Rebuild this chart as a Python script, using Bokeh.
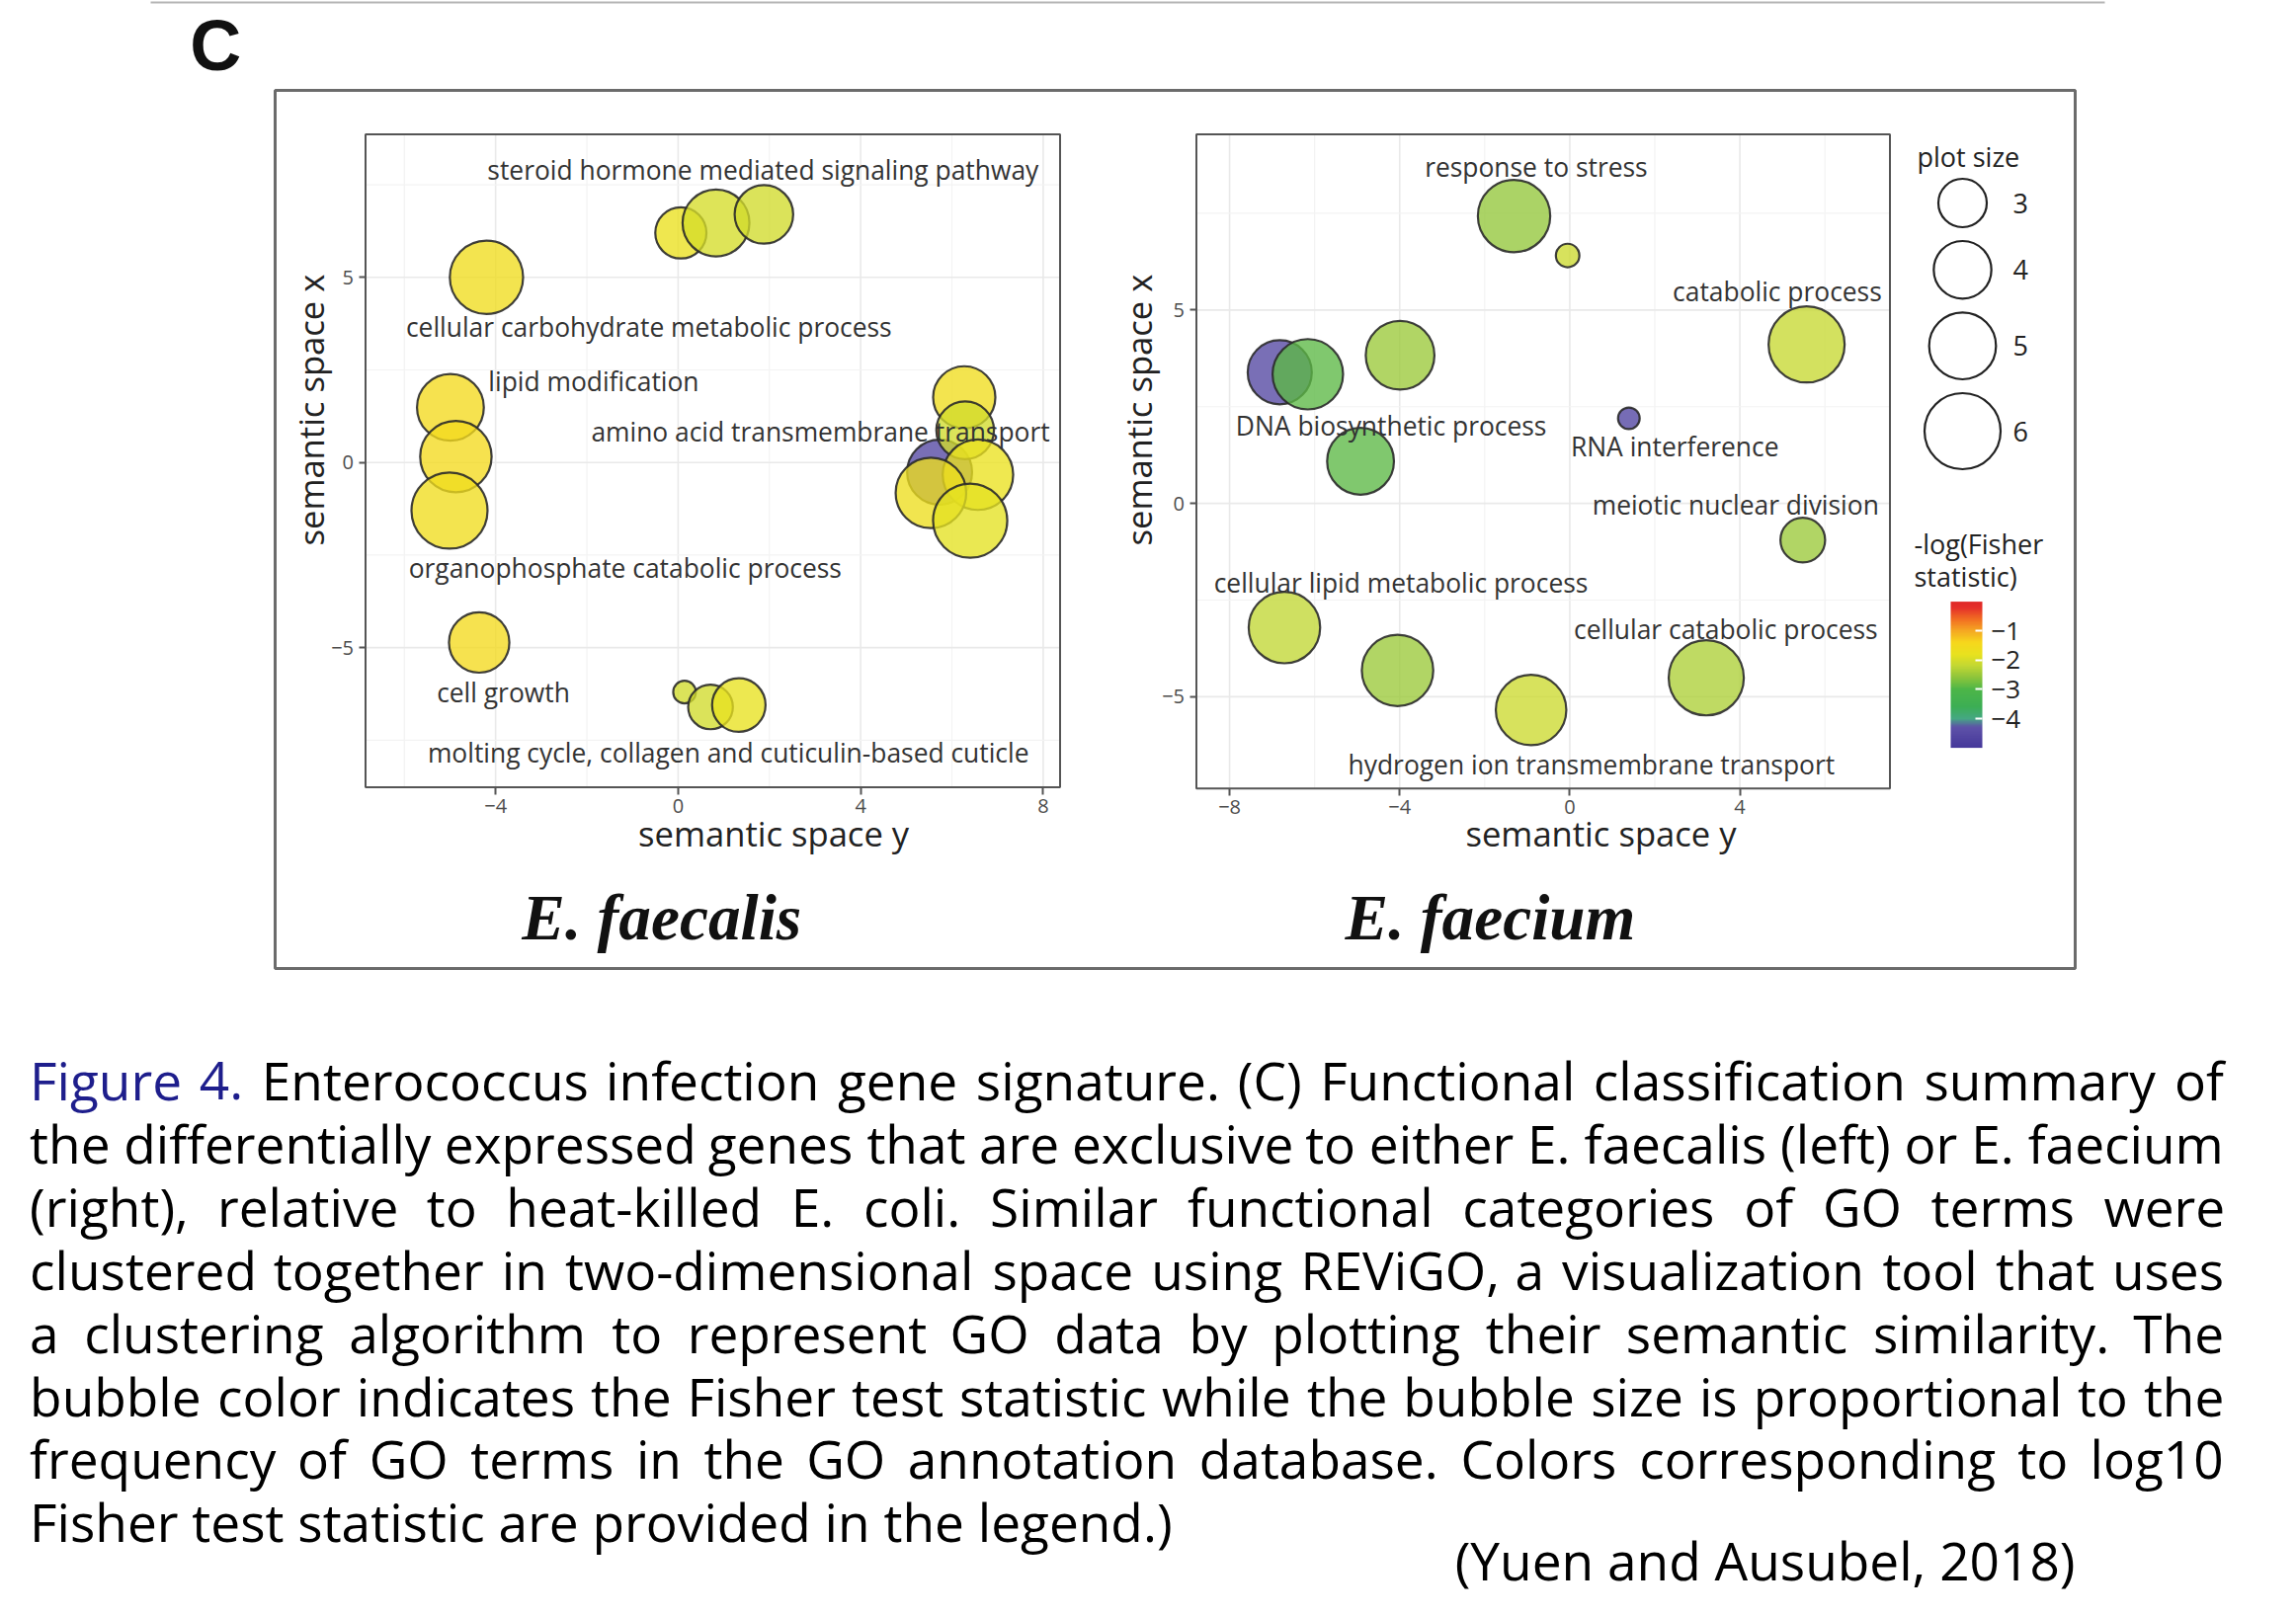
import os
import subprocess
from math import pi

from bokeh.plotting import figure
from bokeh.models import (ColumnDataSource, Range1d, LinearAxis, FixedTicker,
                          LinearColorMapper, ColorBar, LinearInterpolator,
                          CustomJSTickFormatter)
from bokeh.core.properties import value
from bokeh.embed import file_html
from bokeh.resources import INLINE

# ---------------------------------------------------------------- data
# E. faecalis panel (semantic space y -> x axis, semantic space x -> y axis)
fa_xlim = [-6.85, 8.37]
fa_ylim = [-8.77, 8.86]
fa_xticks = [-4, 0, 4, 8]
fa_yticks = [-5, 0, 5]
fa_x = [0.06, 0.83, 1.88, -4.20, -4.99, -4.87, -5.01, 6.27, 5.73, 6.29, 6.57, 5.54, 6.40, -4.36, 0.14, 0.71, 1.33]
fa_y = [6.20, 6.47, 6.70, 5.00, 1.49, 0.16, -1.30, 1.76, -0.26, 0.87, -0.33, -0.82, -1.57, -4.86, -6.20, -6.60, -6.55]
fa_size = [3.3, 5.0, 4.1, 5.7, 5.0, 5.5, 6.1, 4.5, 4.8, 4.0, 5.4, 5.4, 5.8, 4.3, 0.2, 2.6, 3.55]
fa_logp = [-1.7, -2.0, -2.05, -1.6, -1.5, -1.5, -1.6, -1.6, -4.6, -2.05, -1.75, -1.65, -1.85, -1.5, -2.05, -2.05, -1.8]
fa_labels = ["steroid hormone mediated signaling pathway",
             "cellular carbohydrate metabolic process",
             "lipid modification",
             "amino acid transmembrane transport",
             "organophosphate catabolic process",
             "cell growth",
             "molting cycle, collagen and cuticulin-based cuticle"]
fa_lx = [1.86, -0.64, -1.85, 3.12, -1.16, -3.83, 1.10]
fa_ly = [7.90, 3.67, 2.20, 0.83, -2.86, -6.20, -7.84]

# E. faecium panel
fm_xlim = [-8.78, 7.53]
fm_ylim = [-7.37, 9.54]
fm_xticks = [-8, -4, 0, 4]
fm_yticks = [-5, 0, 5]
fm_x = [-1.31, -0.05, 5.57, -6.82, -6.16, -3.99, -4.92, 1.39, 5.48, -6.71, -4.05, -0.91, 3.21]
fm_y = [7.43, 6.41, 4.11, 3.39, 3.34, 3.83, 1.09, 2.20, -0.95, -3.21, -4.32, -5.34, -4.51]
fm_size = [5.6, 0.3, 6.1, 4.7, 5.4, 5.2, 5.0, 0.1, 2.6, 5.5, 5.5, 5.4, 5.9]
fm_logp = [-2.55, -2.1, -2.15, -4.6, -2.9, -2.5, -2.9, -4.7, -2.5, -2.2, -2.5, -2.1, -2.35]
fm_labels = ["response to stress", "catabolic process", "DNA biosynthetic process",
             "RNA interference", "meiotic nuclear division",
             "cellular lipid metabolic process", "cellular catabolic process",
             "hydrogen ion transmembrane transport"]
fm_lx = [-0.79, 4.88, -4.20, 2.47, 3.90, -3.97, 3.67, 0.51]
fm_ly = [8.71, 5.47, 2.02, 1.47, -0.03, -2.06, -3.25, -6.75]

panel_titles = ["E. faecalis", "E. faecium"]
axis_title_x = "semantic space y"
axis_title_y = "semantic space x"

legend_sizes = [3, 4, 5, 6]
cbar_ticks = [-4, -3, -2, -1]
cbar_low, cbar_high = -5.0, 0.0

caption_lines = [
    "Figure 4. Enterococcus infection gene signature. (C) Functional classification summary of",
    "the differentially expressed genes that are exclusive to either E. faecalis (left) or E. faecium",
    "(right), relative to heat-killed E. coli. Similar functional categories of GO terms were",
    "clustered together in two-dimensional space using REViGO, a visualization tool that uses",
    "a clustering algorithm to represent GO data by plotting their semantic similarity. The",
    "bubble color indicates the Fisher test statistic while the bubble size is proportional to the",
    "frequency of GO terms in the GO annotation database. Colors corresponding to log10",
    "Fisher test statistic are provided in the legend.)",
]
citation = "(Yuen and Ausubel, 2018)"

# ---------------------------------------------------------------- fonts / measuring
try:
    from PIL import ImageFont
except Exception:
    ImageFont = None

_ALL = []
for root in ["/usr/share/fonts", "/usr/local/share/fonts",
             os.path.expanduser("~/.fonts"), os.path.expanduser("~/.local/share/fonts")]:
    if os.path.isdir(root):
        for dp, _, fs in os.walk(root):
            for f in fs:
                if f.lower().endswith((".ttf", ".otf")):
                    _ALL.append(os.path.join(dp, f))
_ALL.sort()


def find_font(keys, family=None, must=None):
    for k in keys:
        for f in _ALL:
            n = os.path.basename(f).lower()
            if k in n and "italic" not in n.replace(k, ""):
                return f
    if family:
        try:
            r = subprocess.run(["fc-match", "-f", "%{file}", family],
                               capture_output=True, text=True, timeout=5)
            f = r.stdout.strip()
            if f and os.path.exists(f) and (must is None or must in os.path.basename(f).lower()):
                return f
        except Exception:
            pass
    return None


OS_PATH = find_font(["opensans-regular", "opensans["], "Open Sans", "opensans")
NARROW_PATH = find_font(["liberationsansnarrow-regular"], "Liberation Sans Narrow", "narrow")
SERIF_BI_PATH = None
for f in _ALL:
    if "liberationserif-bolditalic" in os.path.basename(f).lower():
        SERIF_BI_PATH = f
        break

_FC = {}


def text_w(txt, path, size, em):
    if ImageFont is not None and path:
        try:
            fnt = _FC.get(path)
            if fnt is None:
                fnt = ImageFont.truetype(path, 200)
                _FC[path] = fnt
            return fnt.getlength(txt) * size / 200.0
        except Exception:
            pass
    return len(txt) * em * size


def fit(txt, target, path, em):
    return target / text_w(txt, path, 1.0, em)


SANS = "Open Sans"
if NARROW_PATH:
    CAP_FONT, CAP_PATH, CAP_EM = "Liberation Sans Narrow", NARROW_PATH, 0.40
else:
    CAP_FONT, CAP_PATH, CAP_EM = "Open Sans", OS_PATH, 0.50

LAB_SIZE = fit(fa_labels[0], 558, OS_PATH, 0.50)
AX_SIZE = fit(axis_title_x, 274, OS_PATH, 0.50)
LEG_SIZE = fit("-log(Fisher", 131, OS_PATH, 0.50)
CAP_SIZE = fit(caption_lines[-1], 1154, CAP_PATH, CAP_EM)
TITLE_SIZE = min(70.0, max(56.0, fit(panel_titles[0], 283, SERIF_BI_PATH, 0.42)))

# ---------------------------------------------------------------- layout (page pixels; canvas at page 0,0)
W, H = 2316, 1630
FA_BOX = (369.5, 1072.5, 135.6, 796.5)   # left, right, top, bottom
FM_BOX = (1210.5, 1912.5, 135.6, 797.7)

p = figure(width=W, height=H, output_backend="svg", toolbar_location=None,
           x_range=Range1d(0, W), y_range=Range1d(H, 0),
           x_axis_type=None, y_axis_type=None, min_border=0)
p.outline_line_color = None
p.background_fill_color = "white"
p.border_fill_color = "white"


def panel_ranges(xlim, ylim, box):
    L, R, T, B = box
    kx = (xlim[1] - xlim[0]) / (R - L)
    xs = xlim[0] - L * kx
    ky = (ylim[1] - ylim[0]) / (B - T)
    ys = ylim[0] - (H - B) * ky
    return Range1d(xs, xs + W * kx), Range1d(ys, ys + H * ky)


fax, fay = panel_ranges(fa_xlim, fa_ylim, FA_BOX)
fmx, fmy = panel_ranges(fm_xlim, fm_ylim, FM_BOX)
p.extra_x_ranges = {"fax": fax, "fmx": fmx}
p.extra_y_ranges = {"fay": fay, "fmy": fmy}

# colour scale
anchor_v = [-5.0, -4.3, -4.0, -3.6, -3.0, -2.6, -2.2, -1.8, -1.4, -1.0, -0.6, -0.2, 0.0]
anchor_c = ["#45379a", "#5e52a8", "#45a883", "#3cae55", "#4db648", "#8cc43c", "#c2d734",
            "#e8e21f", "#f6d81c", "#f5a922", "#f26f22", "#e5302a", "#e12a28"]


def _rgb(h):
    return tuple(int(h[i:i + 2], 16) for i in (1, 3, 5))


palette = []
N = 256
for k in range(N):
    v = cbar_low + (cbar_high - cbar_low) * k / (N - 1)
    for j in range(len(anchor_v) - 1):
        if anchor_v[j] <= v <= anchor_v[j + 1]:
            t = (v - anchor_v[j]) / (anchor_v[j + 1] - anchor_v[j])
            a, b = _rgb(anchor_c[j]), _rgb(anchor_c[j + 1])
            palette.append("#%02x%02x%02x" % tuple(int(round(a[i] + (b[i] - a[i]) * t)) for i in range(3)))
            break
cmap = LinearColorMapper(palette=palette, low=cbar_low, high=cbar_high)
size_map = LinearInterpolator(x=[0, 6], y=[21.0, 77.0], clip=False)

MINUS_JS = "return String(tick).replace('-', '\\u2212');"


def grid_vals(ticks, lim):
    step = ticks[1] - ticks[0]
    major = [t for t in ticks if lim[0] < t < lim[1]]
    minor = [t + step / 2.0 for t in [ticks[0] - step] + ticks if lim[0] < t + step / 2.0 < lim[1]]
    return major, minor


def draw_panel(tag, xlim, ylim, xt, yt, bx, by, bs, bv, labels, lx, ly):
    xr, yr = tag + "x", tag + "y"
    gxm, gxn = grid_vals(xt, xlim)
    gym, gyn = grid_vals(yt, ylim)
    for vals, col, lw in ((gxn, "#f3f3f3", 1.2), (gxm, "#e9e9e9", 1.6)):
        p.segment(x0=vals, x1=vals, y0=[ylim[0]] * len(vals), y1=[ylim[1]] * len(vals),
                  line_color=col, line_width=lw, x_range_name=xr, y_range_name=yr)
    for vals, col, lw in ((gyn, "#f3f3f3", 1.2), (gym, "#e9e9e9", 1.6)):
        p.segment(y0=vals, y1=vals, x0=[xlim[0]] * len(vals), x1=[xlim[1]] * len(vals),
                  line_color=col, line_width=lw, x_range_name=xr, y_range_name=yr)

    src = ColumnDataSource(dict(x=bx, y=by, s=bs, v=bv))
    p.scatter("x", "y", source=src, marker="circle",
              size={"field": "s", "transform": size_map},
              fill_color={"field": "v", "transform": cmap}, fill_alpha=0.78,
              line_color="#2a2a2a", line_width=2.2, line_alpha=0.9,
              x_range_name=xr, y_range_name=yr)

    lsrc = ColumnDataSource(dict(x=lx, y=ly, t=labels))
    p.text("x", "y", text="t", source=lsrc, text_font=value(SANS),
           text_font_size="%.1fpx" % LAB_SIZE, text_color="#333333",
           text_align="center", text_baseline="middle",
           x_range_name=xr, y_range_name=yr)

    p.quad(left=[xlim[0]], right=[xlim[1]], bottom=[ylim[0]], top=[ylim[1]],
           fill_color=None, line_color="#555555", line_width=2,
           x_range_name=xr, y_range_name=yr)

    for dim in ("x", "y"):
        if dim == "x":
            ax = LinearAxis(x_range_name=xr, y_range_name=yr, fixed_location=ylim[0],
                            bounds=(xlim[0], xlim[1]), ticker=FixedTicker(ticks=xt),
                            formatter=CustomJSTickFormatter(code=MINUS_JS))
            place = "below"
        else:
            ax = LinearAxis(x_range_name=xr, y_range_name=yr, fixed_location=xlim[0],
                            bounds=(ylim[0], ylim[1]), ticker=FixedTicker(ticks=yt),
                            formatter=CustomJSTickFormatter(code=MINUS_JS))
            place = "left"
        ax.axis_line_color = None
        ax.major_tick_line_color = "#555555"
        ax.major_tick_line_width = 2
        ax.major_tick_in = 0
        ax.major_tick_out = 7
        ax.minor_tick_line_color = None
        ax.major_label_text_font = SANS
        ax.major_label_text_font_size = "20px"
        ax.major_label_text_color = "#4d4d4d"
        ax.major_label_standoff = 5
        p.add_layout(ax, place)


draw_panel("fa", fa_xlim, fa_ylim, fa_xticks, fa_yticks, fa_x, fa_y, fa_size, fa_logp,
           fa_labels, fa_lx, fa_ly)
draw_panel("fm", fm_xlim, fm_ylim, fm_xticks, fm_yticks, fm_x, fm_y, fm_size, fm_logp,
           fm_labels, fm_lx, fm_ly)

# ---------------------------------------------------------------- decorations (page coords)
p.segment(x0=[152], x1=[2130], y0=[2], y1=[2], line_color="#b5b5b5", line_width=2)
p.quad(left=[278], right=[2100], top=[91], bottom=[980], fill_color=None,
       line_color="#6b6b6b", line_width=3)
p.text(x=[217.7], y=[45], text=["C"], text_font=value("Liberation Sans"),
       text_font_style="bold", text_font_size="72px", text_color="#111111",
       text_align="center", text_baseline="middle")

p.text(x=[669.3, 1508], y=[928, 928], text=panel_titles, text_font=value("Liberation Serif"),
       text_font_style="bold italic", text_font_size="%.1fpx" % TITLE_SIZE,
       text_color="#111111", text_align="center", text_baseline="middle")

p.text(x=[782.6, 1620], y=[842.6, 842.6], text=[axis_title_x, axis_title_x], text_font=value(SANS),
       text_font_size="%.1fpx" % AX_SIZE, text_color="#222222",
       text_align="center", text_baseline="middle")
p.text(x=[314, 1152], y=[414.6, 414.6], text=[axis_title_y, axis_title_y], text_font=value(SANS),
       text_font_size="%.1fpx" % AX_SIZE, text_color="#222222", angle=pi / 2,
       text_align="center", text_baseline="middle")

# size legend
leg_d = [21.0 + (77.0 - 21.0) * s / 6.0 for s in legend_sizes]
leg_y = [205.0]
for i in range(1, len(legend_sizes)):
    leg_y.append(leg_y[-1] + (leg_d[i - 1] + leg_d[i]) / 2.0 + 14)
lsrc = ColumnDataSource(dict(x=[1986] * len(legend_sizes), y=leg_y, s=legend_sizes))
p.scatter("x", "y", source=lsrc, marker="circle", size={"field": "s", "transform": size_map},
          fill_color=None, line_color="#222222", line_width=2.2)
p.text(x=[2037] * len(legend_sizes), y=leg_y, text=[str(s) for s in legend_sizes],
       text_font=value(SANS), text_font_size="%.1fpx" % LEG_SIZE, text_color="#222222",
       text_align="left", text_baseline="middle")
p.text(x=[1940], y=[158.4], text=["plot size"], text_font=value(SANS),
       text_font_size="%.1fpx" % LEG_SIZE, text_color="#222222",
       text_align="left", text_baseline="middle")
p.text(x=[1937, 1937], y=[550, 583], text=["-log(Fisher", "statistic)"], text_font=value(SANS),
       text_font_size="%.1fpx" % LEG_SIZE, text_color="#222222",
       text_align="left", text_baseline="middle")

# colour bar: bar left 1974, top 608.4, bottom 756.6 (page px)
cb_left, cb_top, cb_bottom, cb_w = 1974.0, 608.4, 756.6, 32
cb = ColorBar(color_mapper=cmap, ticker=FixedTicker(ticks=cbar_ticks),
              formatter=CustomJSTickFormatter(code=MINUS_JS),
              orientation="vertical", width=cb_w, height=int(round(cb_bottom - cb_top)),
              location=(cb_left, H - cb_bottom), padding=0, margin=0,
              major_tick_in=7, major_tick_out=0, major_tick_line_color="white",
              major_tick_line_width=2, minor_tick_line_color=None, bar_line_color=None,
              border_line_color=None, background_fill_color=None,
              major_label_text_font=SANS, major_label_text_font_size="26px",
              major_label_text_color="#222222", label_standoff=9)
p.add_layout(cb, "center")

# caption (justified); y values are vertical centres of the lines
X0, X1 = 29.6, 2250.7
MID0, LEAD = 1093.0, 63.9
cw_x, cw_y, cw_t, cw_c = [], [], [], []
for i, line in enumerate(caption_lines):
    yb = MID0 + i * LEAD
    if i < len(caption_lines) - 1:
        words = line.split(" ")
        ws = [text_w(w, CAP_PATH, CAP_SIZE, CAP_EM) for w in words]
        gap = (X1 - X0 - sum(ws)) / (len(words) - 1)
        gap = max(gap, 0.15 * CAP_SIZE)
        xx = X0
        for j, (w, wd) in enumerate(zip(words, ws)):
            cw_x.append(xx)
            cw_y.append(yb)
            cw_t.append(w)
            cw_c.append("#1e1e8c" if (i == 0 and j < 2) else "#000000")
            xx += wd + gap
    else:
        cw_x.append(X0)
        cw_y.append(yb)
        cw_t.append(line)
        cw_c.append("#000000")
csrc = ColumnDataSource(dict(x=cw_x, y=cw_y, t=cw_t, c=cw_c))
p.text("x", "y", text="t", source=csrc, text_color="c", text_font=value(CAP_FONT),
       text_font_size="%.1fpx" % CAP_SIZE, text_align="left", text_baseline="middle")
p.text(x=[2100.0], y=[1578.5], text=[citation], text_color="#000000", text_font=value(CAP_FONT),
       text_font_size="%.1fpx" % CAP_SIZE, text_align="right", text_baseline="middle")

open("out.html", "w", encoding="utf-8").write(file_html(p, INLINE))
